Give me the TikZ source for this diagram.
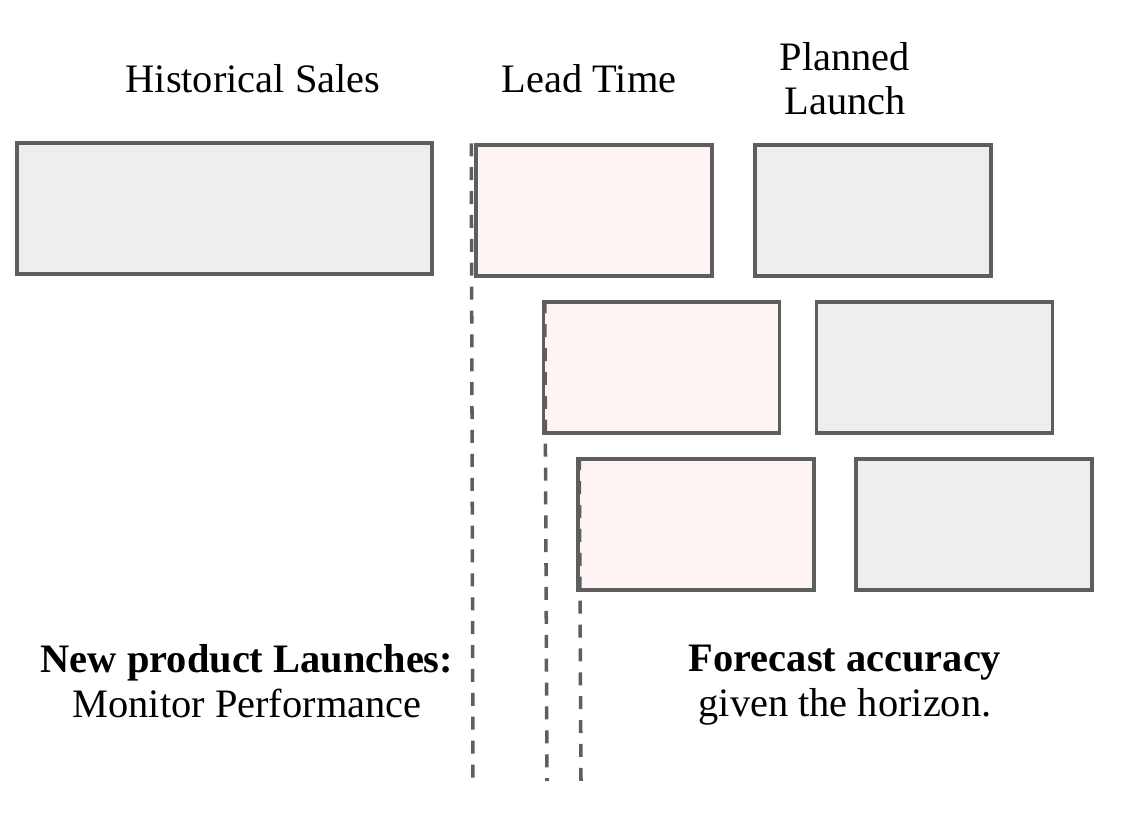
\documentclass[tikz,border=0pt]{standalone}
\usepackage{fontspec}
\setmainfont{Liberation Serif}
\usepackage{tikz}
\usetikzlibrary{positioning}

\definecolor{edgegray}{HTML}{5E5E5E}
\definecolor{boxgray}{HTML}{EEEEEE}
\definecolor{boxpink}{HTML}{FFF4F4}

\begin{document}
\begin{tikzpicture}[x=0.02cm, y=-0.02cm]

% Set the overall frame of the picture
\useasboundingbox (0,0) rectangle (1148,824);

% Define styles for periods and labels
\tikzstyle{period} = [rectangle, draw=edgegray, line width=2pt, minimum width=4.72cm, minimum height=2.62cm, inner sep=0pt]
\tikzstyle{past} = [period, fill=boxgray]
\tikzstyle{lead} = [period, fill=boxpink]
\tikzstyle{plan} = [period, fill=boxgray]
\tikzstyle{caption} = [anchor=base, align=center, inner sep=0pt, font=\fontsize{23}{25.5}\selectfont]
\tikzstyle{cutoff} = [draw=edgegray, line width=2pt, dash pattern=on 7.4pt off 6.2pt]

% Boxes, one row per forecast
\node[past, minimum width=8.3cm] (hist) at (224.5,208.5) {};
\node[lead] (lead1) at (594,210.5) {};
\node[plan] (plan1) at (873,210.5) {};
\node[lead] (lead2) at (661.5,367.5) {};
\node[plan] (plan2) at (934.5,367.5) {};
\node[lead] (lead3) at (696,524.5) {};
\node[plan] (plan3) at (974,524.5) {};

% Headings (base = last line)
\node[caption] (histlabel) at (253,93) {Historical Sales};
\node[caption] (leadlabel) at (589,93) {Lead Time};
\node[caption] (planlabel) at (845,115) {Planned\\Launch};

% Bottom notes
\node[caption] (launchnote) at (247,717) {\textbf{New product Launches:}\\Monitor Performance};
\node[caption] (accnote) at (845,716) {\textbf{Forecast accuracy}\\given the horizon.};

% Forecast cut-off lines
\coordinate (end1) at (473,785);
\coordinate (end2) at (547,781);
\coordinate (end3) at (581,781);
\draw[cutoff] ([xshift=-0.06cm]lead1.north west) -- (end1);
\draw[cutoff] ([xshift=0.06cm]lead2.north west) -- (end2);
\draw[cutoff] ([xshift=0.06cm]lead3.north west) -- (end3);

\end{tikzpicture}
\end{document}
